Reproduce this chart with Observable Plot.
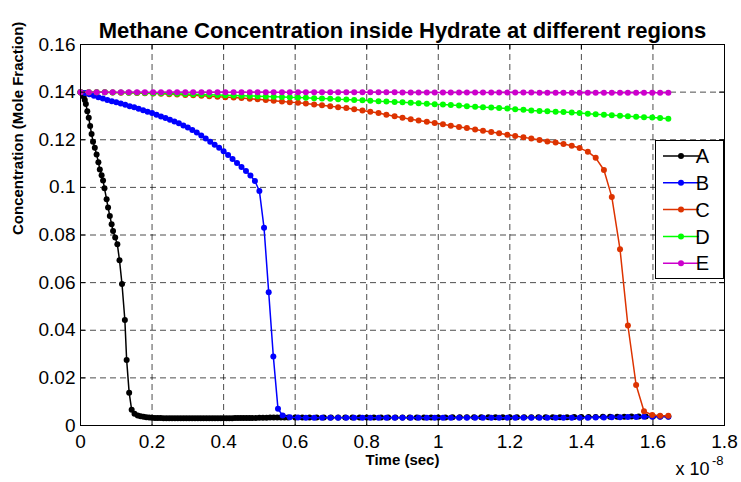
<!DOCTYPE html>
<html><head><meta charset="utf-8">
<script src="https://cdn.jsdelivr.net/npm/d3@7"></script>
<script src="https://cdn.jsdelivr.net/npm/@observablehq/plot@0.6"></script>
<style>body{margin:0;background:#fff} svg{display:block}</style>
</head><body><div id="chart"></div>
<script>
// ---- tick values and labels ----
const xTicks = [0, 0.2, 0.4, 0.6, 0.8, 1, 1.2, 1.4, 1.6, 1.8];
const xTickLabels = ["0", "0.2", "0.4", "0.6", "0.8", "1", "1.2", "1.4", "1.6", "1.8"];
const yTicks = [0, 0.02, 0.04, 0.06, 0.08, 0.1, 0.12, 0.14, 0.16];
const yTickLabels = ["0", "0.02", "0.04", "0.06", "0.08", "0.1", "0.12", "0.14", "0.16"];

const titleText = "Methane Concentration inside Hydrate at different regions";
const xLabel = "Time (sec)";
const yLabel = "Concentration (Mole Fraction)";
const xExponentBase = "x 10";
const xExponent = "-8";

// ---- series ----
const seriesNames = ["A", "B", "C", "D", "E"];
const seriesColors = ["#000000", "#0000ff", "#dd3300", "#00ff00", "#cc00cc"];

// time in units of 1e-8 s
const timeA = [0, 0.003, 0.006, 0.009, 0.012, 0.015, 0.019, 0.023, 0.027, 0.031,
 0.035, 0.04, 0.045, 0.05, 0.054, 0.059, 0.063, 0.067, 0.073, 0.077,
 0.082, 0.087, 0.091, 0.097, 0.103, 0.109, 0.116, 0.124, 0.129, 0.136,
 0.143, 0.151, 0.16, 0.168, 0.176, 0.184, 0.192, 0.2, 0.208, 0.216,
 0.224, 0.232, 0.24, 0.248, 0.256, 0.264, 0.272, 0.28, 0.288, 0.296,
 0.304, 0.312, 0.32, 0.328, 0.336, 0.344, 0.352, 0.36, 0.368, 0.376,
 0.384, 0.392, 0.4, 0.408, 0.416, 0.424, 0.432, 0.44, 0.448, 0.456,
 0.464, 0.472, 0.48, 0.49, 0.5, 0.51, 0.52, 0.53, 0.54, 0.55,
 0.56, 0.57, 0.58, 0.6, 0.62, 0.64, 0.66, 0.68, 0.7, 0.72,
 0.74, 0.76, 0.78, 0.8, 0.82, 0.84, 0.86, 0.88, 0.9, 0.92,
 0.94, 0.96, 0.98, 1.0, 1.02, 1.04, 1.06, 1.08, 1.1, 1.12,
 1.14, 1.16, 1.18, 1.2, 1.22, 1.24, 1.26, 1.28, 1.3, 1.32,
 1.34, 1.36, 1.38, 1.4, 1.42, 1.44, 1.46, 1.48, 1.5, 1.52,
 1.54, 1.56, 1.58, 1.6, 1.62, 1.643];
const concA = [0.1400, 0.1397, 0.1391, 0.1381, 0.1367, 0.1350, 0.1320, 0.1292, 0.1258, 0.1224,
 0.1192, 0.1166, 0.1138, 0.1106, 0.1075, 0.1051, 0.1029, 0.0996, 0.0950, 0.0915,
 0.0880, 0.0845, 0.0817, 0.0789, 0.0761, 0.0694, 0.0594, 0.0443, 0.0275, 0.0138,
 0.0066, 0.0049, 0.0042, 0.0039, 0.0037, 0.0035, 0.0034, 0.0033, 0.0032, 0.0031,
 0.0031, 0.0030, 0.0030, 0.0030, 0.0030, 0.0030, 0.0030, 0.0030, 0.0030, 0.0030,
 0.0030, 0.0030, 0.0030, 0.0030, 0.0030, 0.0030, 0.0030, 0.0030, 0.0030, 0.0030,
 0.0030, 0.0030, 0.0030, 0.0030, 0.0030, 0.0030, 0.0031, 0.0031, 0.0031, 0.0031,
 0.0031, 0.0031, 0.0032, 0.0032, 0.0033, 0.0033, 0.0033, 0.0034, 0.0034, 0.0034,
 0.0034, 0.0034, 0.0034, 0.0034, 0.0034, 0.0034, 0.0034, 0.0034, 0.0034, 0.0034,
 0.0034, 0.0034, 0.0034, 0.0034, 0.0034, 0.0034, 0.0034, 0.0034, 0.0034, 0.0034,
 0.0034, 0.0034, 0.0034, 0.0034, 0.0034, 0.0035, 0.0035, 0.0035, 0.0035, 0.0035,
 0.0035, 0.0035, 0.0035, 0.0035, 0.0035, 0.0035, 0.0035, 0.0035, 0.0035, 0.0035,
 0.0035, 0.0035, 0.0036, 0.0036, 0.0036, 0.0036, 0.0037, 0.0037, 0.0037, 0.0037,
 0.0038, 0.0038, 0.0038, 0.0038, 0.0038, 0.0038];

const timeB = [0, 0.0125, 0.025, 0.0375, 0.05, 0.0625, 0.075, 0.0875, 0.1, 0.1125,
 0.125, 0.1375, 0.15, 0.1625, 0.175, 0.1875, 0.2, 0.2125, 0.225, 0.2375,
 0.25, 0.2625, 0.275, 0.2875, 0.3, 0.3125, 0.325, 0.3375, 0.35, 0.3625,
 0.375, 0.3875, 0.4, 0.4125, 0.425, 0.4375, 0.45, 0.4625, 0.475, 0.4875,
 0.5, 0.513, 0.526, 0.539, 0.552, 0.565,
 0.585, 0.608, 0.63, 0.653, 0.675, 0.698, 0.72, 0.743, 0.765, 0.788,
 0.81, 0.833, 0.855, 0.878, 0.9, 0.923, 0.945, 0.968, 0.99, 1.013,
 1.035, 1.058, 1.08, 1.103, 1.125, 1.148, 1.17, 1.193, 1.215, 1.238,
 1.26, 1.283, 1.305, 1.328, 1.35, 1.373, 1.395, 1.418, 1.44, 1.463,
 1.485, 1.508, 1.53, 1.553, 1.575, 1.598, 1.62, 1.643];
const concB = [0.1400, 0.1396, 0.1391, 0.1385, 0.1379, 0.1373, 0.1367, 0.1362, 0.1357, 0.1352,
 0.1347, 0.1341, 0.1336, 0.1330, 0.1324, 0.1318, 0.1312, 0.1305, 0.1298, 0.1291,
 0.1284, 0.1277, 0.1269, 0.1260, 0.1251, 0.1241, 0.1230, 0.1218, 0.1205, 0.1192,
 0.1179, 0.1166, 0.1152, 0.1136, 0.1119, 0.1102, 0.1086, 0.1069, 0.1050, 0.1027,
 0.0985, 0.0830, 0.0560, 0.0290, 0.0070, 0.0042,
 0.0035, 0.0034, 0.0033, 0.0033, 0.0033, 0.0033, 0.0033, 0.0033, 0.0033, 0.0033,
 0.0033, 0.0033, 0.0033, 0.0033, 0.0033, 0.0033, 0.0033, 0.0033, 0.0033, 0.0033,
 0.0033, 0.0033, 0.0033, 0.0033, 0.0033, 0.0033, 0.0033, 0.0033, 0.0033, 0.0033,
 0.0033, 0.0033, 0.0033, 0.0033, 0.0033, 0.0033, 0.0033, 0.0033, 0.0034, 0.0034,
 0.0035, 0.0035, 0.0036, 0.0036, 0.0037, 0.0037, 0.0037, 0.0037];

const timeCDE = [0, 0.023, 0.045, 0.068, 0.09, 0.113, 0.135, 0.158, 0.18, 0.203,
 0.225, 0.248, 0.27, 0.293, 0.315, 0.338, 0.36, 0.383, 0.405, 0.428,
 0.45, 0.473, 0.495, 0.518, 0.54, 0.563, 0.585, 0.608, 0.63, 0.653,
 0.675, 0.698, 0.72, 0.743, 0.765, 0.788, 0.81, 0.833, 0.855, 0.878,
 0.9, 0.923, 0.945, 0.968, 0.99, 1.013, 1.035, 1.058, 1.08, 1.103,
 1.125, 1.148, 1.17, 1.193, 1.215, 1.238, 1.26, 1.283, 1.305, 1.328,
 1.35, 1.373, 1.395, 1.418, 1.44, 1.463, 1.485, 1.508, 1.53, 1.553,
 1.575, 1.598, 1.62, 1.643];
const concC = [0.1400, 0.1400, 0.1399, 0.1399, 0.1398, 0.1397, 0.1397, 0.1396, 0.1395, 0.1394,
 0.1393, 0.1391, 0.1390, 0.1388, 0.1387, 0.1385, 0.1383, 0.1381, 0.1379, 0.1377,
 0.1375, 0.1372, 0.1370, 0.1367, 0.1364, 0.1361, 0.1358, 0.1355, 0.1352, 0.1348,
 0.1345, 0.1341, 0.1337, 0.1333, 0.1328, 0.1323, 0.1318, 0.1312, 0.1305, 0.1299,
 0.1292, 0.1286, 0.1281, 0.1276, 0.1270, 0.1265, 0.1259, 0.1254, 0.1249, 0.1243,
 0.1238, 0.1233, 0.1227, 0.1221, 0.1216, 0.1210, 0.1205, 0.1199, 0.1193, 0.1188,
 0.1182, 0.1175, 0.1165, 0.1150, 0.1124, 0.1073, 0.0960, 0.0740, 0.0420, 0.0170,
 0.0060, 0.0044, 0.0041, 0.0041];
const concD = [0.1400, 0.1400, 0.1399, 0.1399, 0.1398, 0.1398, 0.1397, 0.1397, 0.1396, 0.1395,
 0.1395, 0.1394, 0.1393, 0.1392, 0.1391, 0.1390, 0.1389, 0.1388, 0.1387, 0.1386,
 0.1385, 0.1384, 0.1383, 0.1382, 0.1381, 0.1380, 0.1378, 0.1377, 0.1376, 0.1374,
 0.1373, 0.1372, 0.1370, 0.1369, 0.1367, 0.1366, 0.1364, 0.1362, 0.1361, 0.1359,
 0.1357, 0.1355, 0.1353, 0.1351, 0.1349, 0.1348, 0.1346, 0.1344, 0.1341, 0.1339,
 0.1337, 0.1335, 0.1333, 0.1331, 0.1328, 0.1326, 0.1323, 0.1321, 0.1320, 0.1318,
 0.1317, 0.1314, 0.1312, 0.1309, 0.1307, 0.1305, 0.1303, 0.1301, 0.1299, 0.1297,
 0.1295, 0.1293, 0.1291, 0.1288];
const concE = [0.1400, 0.1400, 0.1400, 0.1400, 0.1400, 0.1400, 0.1400, 0.1400, 0.1400, 0.1400,
 0.1400, 0.1400, 0.1400, 0.1400, 0.1400, 0.1400, 0.1400, 0.1400, 0.1400, 0.1400,
 0.1400, 0.1400, 0.1400, 0.1400, 0.1400, 0.1400, 0.1400, 0.1400, 0.1400, 0.1400,
 0.1399, 0.1399, 0.1399, 0.1399, 0.1399, 0.1399, 0.1399, 0.1399, 0.1399, 0.1399,
 0.1398, 0.1398, 0.1398, 0.1398, 0.1398, 0.1398, 0.1398, 0.1398, 0.1398, 0.1398,
 0.1398, 0.1398, 0.1398, 0.1398, 0.1398, 0.1398, 0.1398, 0.1397, 0.1397, 0.1397,
 0.1397, 0.1397, 0.1397, 0.1397, 0.1397, 0.1397, 0.1397, 0.1397, 0.1397, 0.1397,
 0.1397, 0.1397, 0.1397, 0.1397];

const seriesTimes = [timeA, timeB, timeCDE, timeCDE, timeCDE];
const seriesConcs = [concA, concB, concC, concD, concE];

// ---- build tables ----
const tables = seriesNames.map((name, k) => {
  const t = seriesTimes[k], c = seriesConcs[k];
  const n = Math.min(t.length, c.length);
  return d3.range(n).map(i => ({series: name, t: t[i], c: c[i]}));
});

// ---- layout ----
const W = 741, H = 482, mL = 80, mR = 17, mT = 44, mB = 57;
const plotW = W - mL - mR, plotH = H - mT - mB;
const font = "'Liberation Sans', Arial, Helvetica, sans-serif";
const gridStyle = {stroke: "#000", strokeOpacity: 0.7, strokeDasharray: "6,4", strokeWidth: 1};

const marks = [
  Plot.gridX(xTicks, gridStyle),
  Plot.gridY(yTicks, gridStyle)
];
tables.forEach((rows, k) => {
  marks.push(Plot.line(rows, {x: "t", y: "c", stroke: seriesColors[k], strokeWidth: 1.5}));
  marks.push(Plot.dot(rows, {x: "t", y: "c", fill: seriesColors[k], r: 3}));
});
marks.push(
  Plot.frame({stroke: "#000", strokeWidth: 1}),
  Plot.tickX(xTicks, {x: d => d, insetTop: plotH - 5, stroke: "#000"}),
  Plot.tickX(xTicks, {x: d => d, insetBottom: plotH - 5, stroke: "#000"}),
  Plot.tickY(yTicks, {y: d => d, insetRight: plotW - 5, stroke: "#000"}),
  Plot.tickY(yTicks, {y: d => d, insetLeft: plotW - 5, stroke: "#000"}),
  Plot.axisX(xTicks, {tickSize: 0, tickPadding: 9, fontSize: 19, label: null,
    tickFormat: d => xTickLabels[xTicks.indexOf(d)]}),
  Plot.axisY(yTicks, {tickSize: 0, tickPadding: 5, fontSize: 19, label: null,
    tickFormat: d => yTickLabels[yTicks.indexOf(d)]}),
  Plot.text([titleText], {text: d => d, frameAnchor: "top", dy: -22, fontSize: 22, fontWeight: "bold"}),
  Plot.text([xLabel], {text: d => d, frameAnchor: "bottom", dy: 39, fontSize: 15, fontWeight: "bold"}),
  Plot.text([yLabel], {text: d => d, frameAnchor: "left", dx: -62, rotate: -90, fontSize: 15, fontWeight: "bold"}),
  Plot.text([xExponentBase], {text: d => d, frameAnchor: "bottom-right", textAnchor: "end", dx: -15, dy: 49, fontSize: 18}),
  Plot.text([xExponent], {text: d => d, frameAnchor: "bottom-right", textAnchor: "end", dx: -1, dy: 39, fontSize: 13})
);

const chart = Plot.plot({
  width: W, height: H,
  marginLeft: mL, marginRight: mR, marginTop: mT, marginBottom: mB,
  style: {fontFamily: font, background: "#fff", color: "#000"},
  x: {domain: [0, 1.8]},
  y: {domain: [0, 0.16]},
  marks
});

// ---- legend (inside the axes, top-right) ----
const lg = d3.select(chart).append("g").attr("font-family", font);
const lgX = 655.5, lgY = 140.5, lgW = 68, lgH = 138, rowH = 26.8;
lg.append("rect").attr("x", lgX).attr("y", lgY).attr("width", lgW).attr("height", lgH)
  .attr("fill", "#fff").attr("stroke", "#000");
seriesNames.forEach((name, i) => {
  const cy = lgY + 15.5 + i * rowH;
  lg.append("line").attr("x1", lgX + 7.5).attr("x2", lgX + 43.5).attr("y1", cy).attr("y2", cy)
    .attr("stroke", seriesColors[i]).attr("stroke-width", 1.5);
  lg.append("circle").attr("cx", lgX + 25.5).attr("cy", cy).attr("r", 3).attr("fill", seriesColors[i]);
  lg.append("text").attr("x", lgX + 47).attr("y", cy).attr("dy", "0.36em")
    .attr("font-size", 20).text(name);
});

document.getElementById("chart").appendChild(chart);
</script>
</body></html>
